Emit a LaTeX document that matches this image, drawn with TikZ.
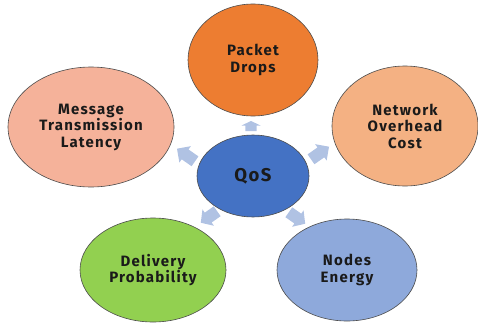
\documentclass[tikz,border=0pt]{standalone}
\usepackage{fontspec}
\setmainfont{Fira Sans}[LetterSpace=8]
\usetikzlibrary{shapes.geometric}
\definecolor{cpd}{HTML}{ED7D31}
\definecolor{cmsg}{HTML}{F5B29A}
\definecolor{cnet}{HTML}{F4B183}
\definecolor{cqos}{HTML}{4472C4}
\definecolor{cdel}{HTML}{92D050}
\definecolor{cne}{HTML}{8EA9DB}
\definecolor{carr}{HTML}{B0C2E3}
\definecolor{ctxt}{HTML}{1A1A1A}
\tikzset{
  bubble/.style={ellipse, draw=black!70, line width=0.6pt, inner sep=0pt,
    align=center, font=\fontsize{15}{16.5}\selectfont\bfseries, text=ctxt},
  pics/barrow/.style args={#1/#2}{code={
    \fill[carr] (-#1/2,-0.3*#2) -- (#1/2-0.45*#1,-0.3*#2) -- (#1/2-0.45*#1,-0.5*#2)
      -- (#1/2,0) -- (#1/2-0.45*#1,0.5*#2) -- (#1/2-0.45*#1,0.3*#2) -- (-#1/2,0.3*#2) -- cycle;
  }}
}
\begin{document}
\begin{tikzpicture}[x=1pt,y=1pt]
\useasboundingbox (0,0) rectangle (478,322);
\node[bubble, fill=cpd, minimum width=130pt, minimum height=112pt] (pd) at (253,262) {Packet\\Drops};
\node[bubble, fill=cmsg, minimum width=166pt, minimum height=120pt] (msg) at (91,195) {Message\\Transmission\\Latency};
\node[bubble, fill=cnet, minimum width=146pt, minimum height=120pt] (net) at (405,196) {Network\\Overhead\\Cost};
\node[bubble, fill=cqos, minimum width=112pt, minimum height=82pt, font=\fontsize{18.5}{20}\selectfont\bfseries] (qos) at (253,146) {QoS};
\node[bubble, fill=cdel, minimum width=146pt, minimum height=104pt] (del) at (153,52) {Delivery\\Probability};
\node[bubble, fill=cne, minimum width=140pt, minimum height=102pt] (ne) at (347,52) {Nodes\\Energy};
\coordinate (a1) at (251,196);
\coordinate (a2) at (186,167);
\coordinate (a3) at (320,169);
\coordinate (a4) at (209,105);
\coordinate (a5) at (297,104);
\pic[rotate=90] at (a1) {barrow={10/19}};
\pic[rotate=145] at (a2) {barrow={22/20}};
\pic[rotate=35] at (a3) {barrow={22/20}};
\pic[rotate=215] at (a4) {barrow={20/20}};
\pic[rotate=-35] at (a5) {barrow={20/20}};
\end{tikzpicture}
\end{document}
